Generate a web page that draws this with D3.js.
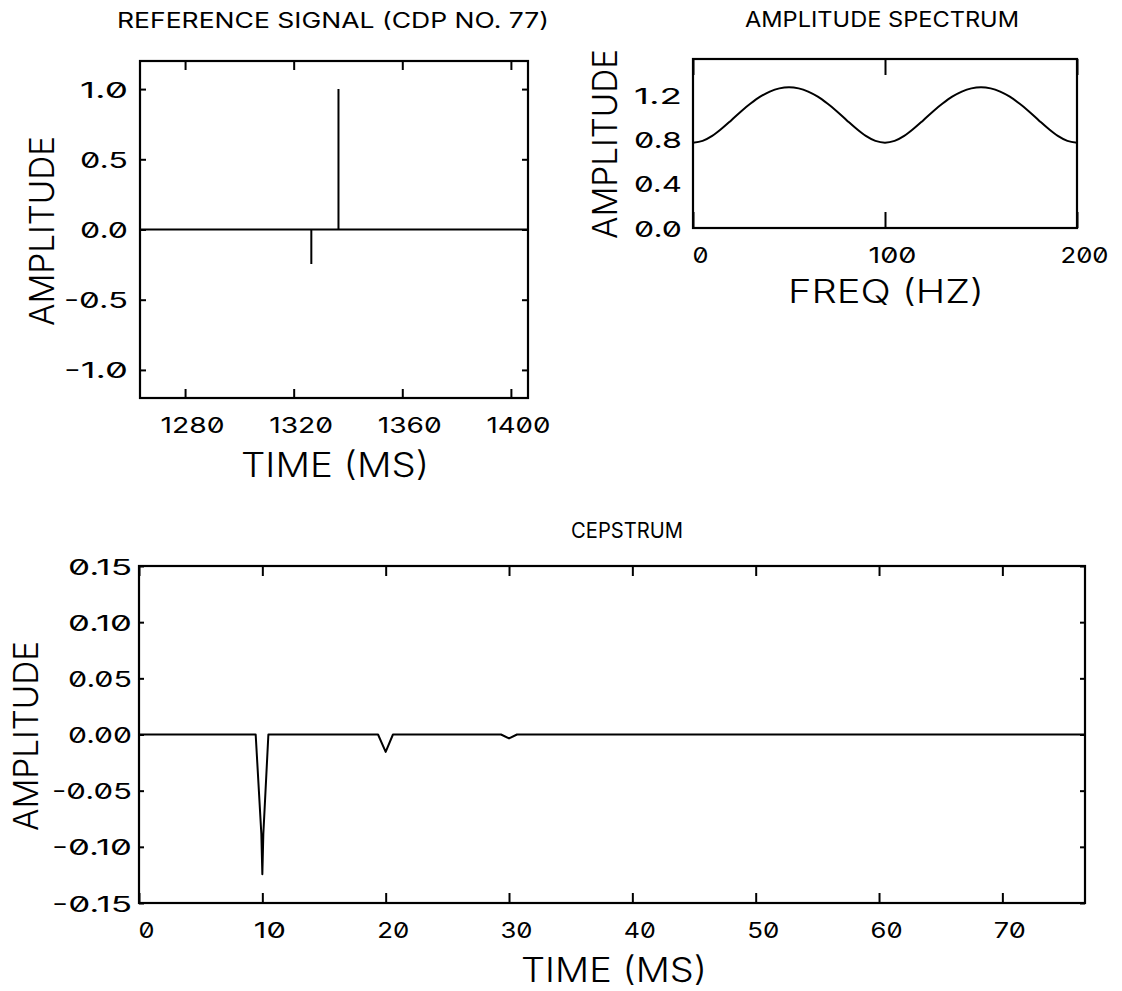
<!DOCTYPE html>
<html>
<head>
<meta charset="utf-8">
<script src="https://cdn.jsdelivr.net/npm/d3@7"></script>
<style>
  html, body { margin: 0; padding: 0; background: #fff; }
  svg text { font-family: Inter, "DejaVu Sans", sans-serif; fill: #000; font-weight: 400;
             font-variant-numeric: slashed-zero; font-feature-settings: "zero" 1; }
</style>
</head>
<body>
<svg id="chart" width="1122" height="991"></svg>
<script>
// ---------------- DATA ----------------
// Panel 1: reference signal (CDP no. 77)
const signalTime = [1263.4, 1326.5, 1326.5, 1326.5, 1336.5, 1336.5, 1336.5, 1406.3];
const signalAmp  = [0, 0, -0.245, 0, 0, 1.0, 0, 0];
const sigXTicks = [1280, 1320, 1360, 1400];
const sigYTicks = [-1.0, -0.5, 0.0, 0.5, 1.0];

// Panel 2: amplitude spectrum
const specFreq = [0, 5, 10, 15, 20, 25, 30, 35, 40, 45, 50, 55, 60, 65, 70, 75, 80, 85, 90, 95,
                  100, 105, 110, 115, 120, 125, 130, 135, 140, 145, 150, 155, 160, 165, 170, 175, 180, 185, 190, 195, 200];
const specAmp  = [0.770, 0.786, 0.831, 0.897, 0.973, 1.051, 1.123, 1.185, 1.231, 1.260, 1.270,
                  1.260, 1.231, 1.185, 1.123, 1.051, 0.973, 0.897, 0.831, 0.786, 0.770,
                  0.786, 0.831, 0.897, 0.973, 1.051, 1.123, 1.185, 1.231, 1.260, 1.270,
                  1.260, 1.231, 1.185, 1.123, 1.051, 0.973, 0.897, 0.831, 0.786, 0.770];
const specXTicks = [0, 100, 200];
const specYTicks = [0.0, 0.4, 0.8, 1.2];

// Panel 3: cepstrum
const cepTime  = [0, 9.46, 9.92, 10.0, 10.08, 10.49, 19.38, 20.0, 20.59, 29.35, 30.0, 30.65, 76.7];
const cepValue = [0, 0, -0.0887, -0.1244, -0.0887, 0, 0, -0.0155, 0, 0, -0.0035, 0, 0];
const cepXTicks = [0, 10, 20, 30, 40, 50, 60, 70];
const cepYTicks = [-0.15, -0.10, -0.05, 0.00, 0.05, 0.10, 0.15];

// ---------------- DRAW ----------------
const svg = d3.select("#chart");
const PITCH = 16;      // tick-label character pitch
const TICKFONT = 22;

function text(s, x, y, size, len, opts = {}) {
  const t = svg.append("text")
    .attr("font-size", size)
    .attr("font-weight", opts.weight || 400)
    .attr("text-anchor", opts.anchor || "middle")
    .attr("textLength", len)
    .attr("lengthAdjust", "spacingAndGlyphs")
    .style("font-weight", opts.weight || 400)
    .text(s);
  if (opts.rotate) t.attr("transform", `translate(${x},${y}) rotate(-90)`);
  else t.attr("x", x).attr("y", y);
  return t;
}

function panel(cfg) {
  const { x, y, xTicks, yTicks, xFmt, yFmt, xTickLen, yTickLen, yGap, showYTickMarks } = cfg;
  const [L, R] = x.range();
  const [B, T] = y.range();
  const g = svg.append("g");

  // tick marks (inward on all four sides)
  const axB = d3.axisBottom(x).tickValues(xTicks).tickSize(-xTickLen).tickSizeOuter(0).tickFormat(xFmt);
  const axT = d3.axisTop(x).tickValues(xTicks).tickSize(-xTickLen).tickSizeOuter(0).tickFormat("");
  const yl = showYTickMarks ? yTickLen : 0;
  const axL = d3.axisLeft(y).tickValues(yTicks).tickSize(-yl).tickSizeOuter(0).tickFormat(yFmt);
  const axR = d3.axisRight(y).tickValues(yTicks).tickSize(-yl).tickSizeOuter(0).tickFormat("");

  const gB = g.append("g").attr("transform", `translate(0,${B})`).call(axB);
  const gT = g.append("g").attr("transform", `translate(0,${T})`).call(axT);
  const gL = g.append("g").attr("transform", `translate(${L},0)`).call(axL);
  const gR = g.append("g").attr("transform", `translate(${R},0)`).call(axR);

  [gB, gT, gL, gR].forEach(a => {
    a.select(".domain").remove();
    a.selectAll("line").attr("stroke", "#000").attr("stroke-width", 2);
    a.attr("font-family", null).attr("font-size", null);
  });

  gB.selectAll("text")
    .attr("y", 34.5).attr("dy", 0).attr("dx", 7)
    .attr("font-size", TICKFONT)
    .attr("textLength", function () { return this.textContent.length * PITCH; })
    .attr("lengthAdjust", "spacingAndGlyphs");
  gL.selectAll("text")
    .attr("x", -yGap).attr("dy", 0).attr("y", 8)
    .attr("font-size", TICKFONT)
    .attr("textLength", function () { return this.textContent.length * PITCH; })
    .attr("lengthAdjust", "spacingAndGlyphs");

  // frame
  g.append("rect").attr("x", L).attr("y", T).attr("width", R - L).attr("height", B - T)
    .attr("fill", "none").attr("stroke", "#000").attr("stroke-width", 2.2);
  return g;
}

// ---- Panel 1 ----
const x1 = d3.scaleLinear().domain([1263.4, 1406.3]).range([140, 528]);
const y1 = d3.scaleLinear().domain([-1.2, 1.2]).range([398, 61]);
const g1 = panel({ x: x1, y: y1, xTicks: sigXTicks, yTicks: sigYTicks,
  xFmt: d => String(d), yFmt: d => d.toFixed(1), xTickLen: 9, yTickLen: 6, yGap: 12, showYTickMarks: true });
g1.append("path")
  .attr("d", d3.line().x((d, i) => x1(signalTime[i])).y((d, i) => y1(signalAmp[i]))(signalTime))
  .attr("fill", "none").attr("stroke", "#000").attr("stroke-width", 2);
text("REFERENCE SIGNAL (CDP NO. 77)", 333, 28, 21, 432);
text("TIME (MS)", 335, 477, 34, 188, { weight: 300 });
text("AMPLITUDE", 53.5, 231, 34, 190, { rotate: true, weight: 300 });

// ---- Panel 2 ----
const x2 = d3.scaleLinear().domain([0, 200]).range([693, 1077]);
const y2 = d3.scaleLinear().domain([0, 1.525]).range([228, 59]);
const g2 = panel({ x: x2, y: y2, xTicks: specXTicks, yTicks: specYTicks,
  xFmt: d => String(d), yFmt: d => d.toFixed(1), xTickLen: 16, yTickLen: 0, yGap: 11, showYTickMarks: false });
g2.append("path")
  .attr("d", d3.line().curve(d3.curveCatmullRom)
    .x((d, i) => x2(specFreq[i])).y((d, i) => y2(specAmp[i]))(specFreq))
  .attr("fill", "none").attr("stroke", "#000").attr("stroke-width", 2);
text("AMPLITUDE SPECTRUM", 882, 27, 21, 274);
text("FREQ (HZ)", 886, 303, 32, 196, { weight: 300 });
text("AMPLITUDE", 617, 144, 34, 190, { rotate: true, weight: 300 });

// ---- Panel 3 ----
const x3 = d3.scaleLinear().domain([0, 76.7]).range([139, 1085]);
const y3 = d3.scaleLinear().domain([-0.15, 0.15]).range([903, 566]);
const g3 = panel({ x: x3, y: y3, xTicks: cepXTicks, yTicks: cepYTicks,
  xFmt: d => String(d), yFmt: d => d.toFixed(2), xTickLen: 10, yTickLen: 5, yGap: 7, showYTickMarks: true });
g3.append("path")
  .attr("d", d3.line().x((d, i) => x3(cepTime[i])).y((d, i) => y3(cepValue[i]))(cepTime))
  .attr("fill", "none").attr("stroke", "#000").attr("stroke-width", 2).attr("stroke-linejoin", "round");
text("CEPSTRUM", 627, 538, 21, 112);
text("TIME (MS)", 614, 982, 34, 186, { weight: 300 });
text("AMPLITUDE", 37.5, 736, 34, 190, { rotate: true, weight: 300 });
</script>
</body>
</html>
